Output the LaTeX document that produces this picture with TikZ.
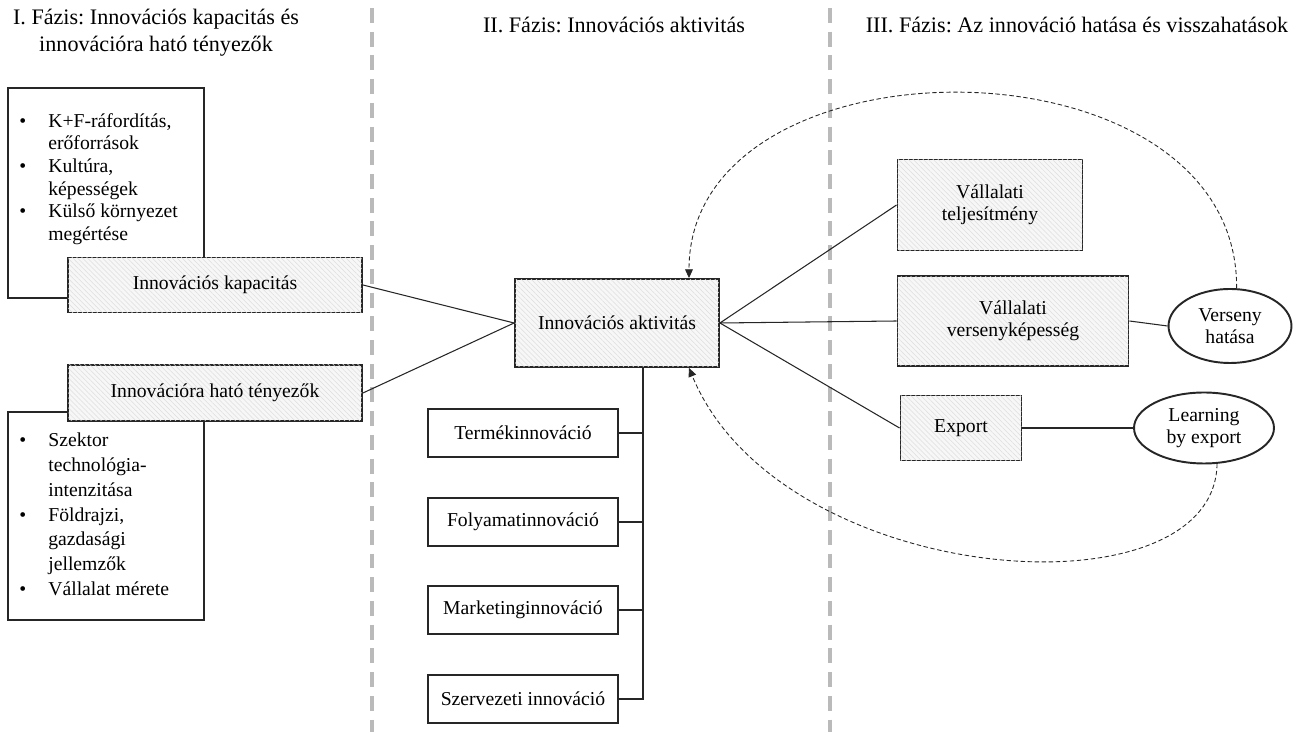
\documentclass[tikz,border=0pt]{standalone}
\usepackage{fontspec}
\setmainfont{Liberation Serif}
\newfontfamily\diaserif{Liberation Serif}
\usetikzlibrary{calc, positioning, shapes.geometric, arrows.meta, patterns.meta}
\newcommand{\diafont}{\diaserif\fontsize{11.2}{12.2}\selectfont}
\newcommand{\headfont}{\diaserif\fontsize{12.6}{15.4}\selectfont}
\frenchspacing

\begin{document}
\begin{tikzpicture}[
  x=0.02cm, y=-0.02cm,
  phase/.style={font=\headfont, align=center, inner sep=0pt},
  phaseline/.style={draw=black!27, line width=1.9pt, dash pattern=on 8.5pt off 5pt},
  listbox/.style={draw=black!85, line width=1.1pt, fill=white, inner sep=0pt},
  shadebox/.style={draw=black!85, line width=1.1pt, fill=black!3, align=center,
                   font=\diafont, inner sep=0pt,
                   postaction={pattern={Lines[angle=-45, distance=2pt, line width=0.3pt]},
                               pattern color=black!13}},
  plainbox/.style={draw=black!85, line width=1.1pt, fill=white, align=center,
                   font=\diafont, inner sep=0pt,
                   minimum width=3.8cm, minimum height=0.96cm},
  effect/.style={ellipse, draw=black!85, line width=1.1pt, fill=white, align=center,
                 font=\diafont, inner sep=0pt},
  link/.style={draw=black!85, line width=0.6pt},
  feedback/.style={draw=black!85, line width=0.5pt, dash pattern=on 2.5pt off 1.5pt,
                   -{Triangle[length=5pt, width=4.5pt]}},
]
\useasboundingbox (0,0) rectangle (1296,732);

% phase headers and separators
\node[phase] (ph1) at (156,33) {I. Fázis: Innovációs kapacitás és\\innovációra ható tényezők};
\node[phase] (ph2) at (614,25) {II. Fázis: Innovációs aktivitás};
\node[phase] (ph3) at (1077,25) {III. Fázis: Az innováció hatása és visszahatások};
\draw[phaseline] (372,8) -- (372,732);
\draw[phaseline] (830,8) -- (830,732);

% phase I
\node[listbox, minimum width=3.92cm, minimum height=4.2cm] (caplist) at (106,193) {};
\node[anchor=north west, inner sep=0pt, font=\diaserif\fontsize{11.2}{12.9}\selectfont] (captext) at (19,111) {%
  \begin{tabular}{@{}p{0.58cm}@{}l@{}}
  • & K+F-ráfordítás,\\
    & erőforrások\\
  • & Kultúra,\\
    & képességek\\
  • & Külső környezet\\
    & megértése
  \end{tabular}};
\node[listbox, minimum width=3.92cm, minimum height=4.16cm] (faclist) at (106,516) {};
\node[anchor=north west, inner sep=0pt, font=\diaserif\fontsize{11.2}{14.1}\selectfont] (factext) at (19,429) {%
  \begin{tabular}{@{}p{0.58cm}@{}l@{}}
  • & Szektor\\
    & technológia-\\
    & intenzitása\\
  • & Földrajzi,\\
    & gazdasági\\
    & jellemzők\\
  • & Vállalat mérete
  \end{tabular}};
\node[shadebox, minimum width=5.88cm, minimum height=1.1cm] (cap) at (215,285) {Innovációs kapacitás};
\node[shadebox, minimum width=5.88cm, minimum height=1.12cm] (fac) at (215,393) {Innovációra ható tényezők};

% phase II
\node[shadebox, minimum width=4.08cm, minimum height=1.76cm] (act) at (617,323) {Innovációs aktivitás};
\node[plainbox] (prod) at (523,433) {Termékinnováció};
\node[plainbox] (proc) at (523,522) {Folyamatinnováció};
\node[plainbox] (mkt) at (523,610) {Marketinginnováció};
\node[plainbox] (org) at (523,699) {Szervezeti innováció};
\coordinate (trunk) at ([xshift=0.52cm]act.south);

% phase III
\node[shadebox, minimum width=3.7cm, minimum height=1.82cm] (perf) at (990,205) {Vállalati\\teljesítmény};
\node[shadebox, minimum width=4.62cm, minimum height=1.8cm] (comp) at (1013,321) {Vállalati\\versenyképesség};
\node[shadebox, minimum width=2.42cm, minimum height=1.3cm] (exp) at (961,428) {Export};
\node[effect, minimum width=2.46cm, minimum height=1.48cm] (rival) at (1230,326) {Verseny\\hatása};
\node[effect, minimum width=2.8cm, minimum height=1.42cm] (lbe) at (1204,428) {Learning\\by export};

% connectors
\draw[link] (cap.east) -- (act.west);
\draw[link] (fac.east) -- (act.west);
\draw[link] (trunk) |- (org.east);
\foreach \b in {prod, proc, mkt}
  \draw[link] (\b.east) -- (\b.east -| trunk);
\draw[link] (act.east) -- (perf.west);
\draw[link] (act.east) -- (comp.west);
\draw[link] (act.east) -- (exp.west);
\draw[link] (comp.east) -- (rival.west);
\draw[link] (exp.east) -- (lbe.west);

% feedback loops
\draw[feedback] (rival.80) .. controls (1238,30) and (689,30) .. ([xshift=1.44cm]act.north);
\draw[feedback] (lbe.290) .. controls (1215,620) and (780,589) .. ([xshift=1.44cm]act.south);
\end{tikzpicture}
\end{document}
